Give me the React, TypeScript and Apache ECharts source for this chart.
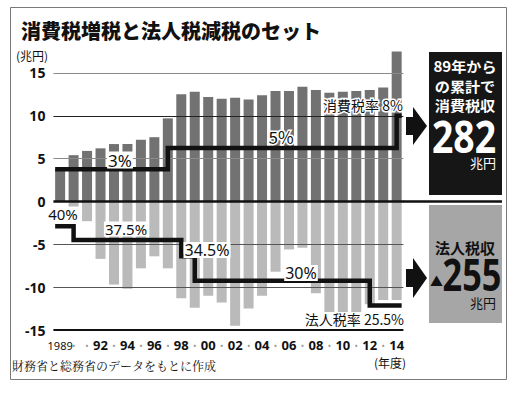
import React, { useEffect, useRef } from 'react';
import * as echarts from 'echarts';

// ---- data ----
const years = [1989, 1990, 1991, 1992, 1993, 1994, 1995, 1996, 1997, 1998, 1999, 2000, 2001, 2002, 2003, 2004, 2005, 2006, 2007, 2008, 2009, 2010, 2011, 2012, 2013, 2014];
const xLabels = ['1989', '・', '・', '92', '・', '94', '・', '96', '・', '98', '・', '00', '・', '02', '・', '04', '・', '06', '・', '08', '・', '10', '・', '12', '・', '14'];
// 消費税収 (兆円)
const consumptionTax = [3.8, 5.4, 5.9, 6.2, 6.7, 6.7, 7.2, 7.5, 9.7, 12.5, 12.8, 12.2, 12.0, 12.1, 11.9, 12.4, 12.9, 12.9, 13.4, 13.0, 12.7, 12.8, 12.9, 13.0, 13.3, 17.5];
// 法人税収の減少 (89年度比, 兆円)
const corporateTaxChange = [0, -1.0, -2.3, -6.7, -9.7, -10.2, -7.8, -6.4, -7.8, -11.3, -12.4, -11.0, -11.8, -14.5, -12.5, -11.0, -8.2, -5.6, -5.4, -10.7, -14.3, -13.5, -13.0, -12.0, -11.5, -11.5];
// 税率 (%)
const consumptionRate = [3, 3, 3, 3, 3, 3, 3, 3, 5, 5, 5, 5, 5, 5, 5, 5, 5, 5, 5, 5, 5, 5, 5, 5, 5, 8];
const corporateRate = [40, 37.5, 37.5, 37.5, 37.5, 37.5, 37.5, 37.5, 37.5, 34.5, 30, 30, 30, 30, 30, 30, 30, 30, 30, 30, 30, 30, 30, 25.5, 25.5, 25.5];
const yTicks = [-15, -10, -5, 0, 5, 10, 15];
const panelLines = ['89年から', 'の累計で', '消費税収'];

const CJK = '"Noto Sans CJK JP", "Noto Sans", sans-serif';
const LAT = '"Noto Sans", "Liberation Sans", sans-serif';

const EDGE = 0.37;
const stepData = (rates: number[]) => [
  [-EDGE, rates[0]],
  ...rates.map((r, i) => [i, r]),
  [rates.length - 1 + EDGE, rates[rates.length - 1]],
];

const gridStyle = (v: number) => {
  if (v === 0) return { color: '#111', width: 2.5, type: 'solid' };
  if (v === -15) return { color: '#111', width: 2, type: 'solid' };
  if (v === 10) return { color: '#222', width: 1, type: 'solid' };
  if (v === 15 || v === 5) return { color: '#8a8a8a', width: 1, type: 'solid' };
  return { color: '#555', width: 1, type: 'solid' };
};

export default function App() {
  const ref = useRef<HTMLDivElement>(null);
  useEffect(() => {
    if (!ref.current) return;
    const chart = echarts.init(ref.current, undefined, { renderer: 'svg' });
    const boxLabel = (text: string, x: number, y: number, size: number, align = 'center') => ({
      type: 'text',
      x,
      y,
      z: 50,
      style: {
        text,
        x: 0,
        y: 0,
        align,
        verticalAlign: 'middle',
        font: `${size}px ${LAT}`,
        fill: '#111',
        backgroundColor: '#fff',
        padding: [0, 1],
      },
    });
    const haloLabel = (text: string, x: number, y: number, size: number) => ({
      type: 'text',
      x,
      y,
      z: 50,
      style: {
        text,
        x: 0,
        y: 0,
        align: 'center',
        verticalAlign: 'middle',
        font: `${size}px ${CJK}`,
        fill: '#111',
        stroke: '#fff',
        lineWidth: 3,
      },
    });
    const panelText = (text: string, x: number, y: number, font: string, fill: string, align = 'center', scaleX = 1) => ({
      type: 'text',
      x,
      y,
      scaleX,
      z: 7,
      style: { text, x: 0, y: 0, align, verticalAlign: 'middle', font, fill },
    });
    const option: any = {
      animation: false,
      backgroundColor: '#fff',
      grid: { left: 53.4, right: 108.6, top: 51.5, bottom: 64, containLabel: false },
      xAxis: [
        {
          type: 'category',
          data: years.map(String),
          axisLine: { show: false },
          axisTick: { show: false },
          axisLabel: {
            interval: 0,
            margin: 7,
            hideOverlap: false,
            formatter: (_: string, i: number) => {
              const l = xLabels[i];
              if (l === '・') return '{d|•}';
              if (l.length === 4) return `{y|${l}}`;
              return `{n|${l}}`;
            },
            rich: {
              d: { fontSize: 9, lineHeight: 16, color: '#999', fontFamily: LAT },
              y: { fontSize: 11, lineHeight: 16, color: '#111', fontFamily: LAT },
              n: { fontSize: 13, lineHeight: 16, fontWeight: 'bold', color: '#111', fontFamily: LAT },
            },
          },
        },
        { type: 'value', min: -0.5, max: 25.5, show: false },
      ],
      yAxis: [
        {
          type: 'value',
          min: -15,
          max: 17.5,
          interval: 5,
          axisLine: { show: false },
          axisTick: { show: false },
          splitLine: { show: false },
          axisLabel: {
            margin: 8,
            fontSize: 14,
            fontWeight: 'bold',
            color: '#111',
            fontFamily: LAT,
            formatter: (v: number) => (yTicks.includes(v) ? String(v) : ''),
          },
        },
        { type: 'value', min: -12, max: 14, show: false },
        { type: 'value', min: 20.99, max: 72.05, show: false },
      ],
      series: [
        {
          type: 'line',
          data: years.map(() => null),
          z: 1,
          silent: true,
          symbol: 'none',
          markLine: {
            silent: true,
            symbol: ['none', 'none'],
            label: { show: false },
            data: yTicks.map((v) => ({ yAxis: v, lineStyle: gridStyle(v) })),
          },
        },
        {
          name: '消費税収',
          type: 'bar',
          data: consumptionTax,
          barWidth: 10,
          barGap: '-100%',
          itemStyle: { color: '#727272' },
          z: 2,
        },
        {
          name: '法人税収',
          type: 'bar',
          data: corporateTaxChange,
          barWidth: 10,
          barGap: '-100%',
          itemStyle: { color: '#bababa' },
          z: 2,
        },
        {
          name: '消費税率',
          type: 'line',
          xAxisIndex: 1,
          yAxisIndex: 1,
          step: 'end',
          symbol: 'none',
          data: stepData(consumptionRate),
          lineStyle: { color: '#111', width: 4.5, cap: 'butt', join: 'miter' },
          z: 5,
        },
        {
          name: '法人税率',
          type: 'line',
          xAxisIndex: 1,
          yAxisIndex: 2,
          step: 'end',
          symbol: 'none',
          data: stepData(corporateRate),
          lineStyle: { color: '#111', width: 4.5, cap: 'butt', join: 'miter' },
          z: 5,
        },
      ],
      graphic: [
        // frame
        { type: 'rect', shape: { x: 10.5, y: 7.5, width: 496, height: 372 }, style: { fill: 'none', stroke: '#7a7a7a', lineWidth: 1 }, z: 0, silent: true },
        // title & notes
        { type: 'text', x: 21, y: 30, style: { text: '消費税増税と法人税減税のセット', x: 0, y: 0, verticalAlign: 'middle', font: `900 20px ${CJK}`, fill: '#111' } },
        { type: 'text', x: 16, y: 55, style: { text: '(兆円)', x: 0, y: 0, verticalAlign: 'middle', font: `12px ${CJK}`, fill: '#111' } },
        { type: 'text', x: 390, y: 362, style: { text: '(年度)', x: 0, y: 0, align: 'center', verticalAlign: 'middle', font: `12px ${CJK}`, fill: '#111' } },
        { type: 'text', x: 12, y: 365, style: { text: '財務省と総務省のデータをもとに作成', x: 0, y: 0, verticalAlign: 'middle', font: `12px "Noto Serif CJK JP", ${CJK}`, fill: '#111' } },
        // zero line extension
        { type: 'line', shape: { x1: 403, y1: 201.5, x2: 502, y2: 201.5 }, style: { stroke: '#111', lineWidth: 2.5 }, z: 3 },
        // rate labels
        boxLabel('3%', 120, 160, 17),
        haloLabel('5%', 281, 136, 17),
        haloLabel('消費税率 8%', 363, 104.5, 14),
        boxLabel('40%', 63, 214, 15),
        boxLabel('37.5%', 126, 229, 15),
        boxLabel('34.5%', 207, 250, 16),
        boxLabel('30%', 301, 273, 16),
        { type: 'text', x: 405, y: 319, z: 50, style: { text: '法人税率 25.5%', x: 0, y: 0, align: 'right', verticalAlign: 'middle', font: `14px ${CJK}`, fill: '#111', backgroundColor: '#fff', padding: [0, 1] } },
        // arrows
        { type: 'polygon', shape: { points: [[406, 117], [413, 117], [413, 107], [427, 126], [413, 145], [413, 135], [406, 135]] }, style: { fill: '#111' }, z: 6 },
        { type: 'polygon', shape: { points: [[406, 269], [413, 269], [413, 258], [427, 278], [413, 298], [413, 287], [406, 287]] }, style: { fill: '#111' }, z: 6 },
        // dark panel
        { type: 'rect', shape: { x: 429, y: 52, width: 73, height: 143 }, style: { fill: '#161616' }, z: 6 },
        ...panelLines.map((t, i) => panelText(t, 465, 66 + i * 19.5, `bold 14px ${CJK}`, '#fff', 'center', 1.08)),
        panelText('282', 464, 136, `bold 44px ${LAT}`, '#fff', 'center', 0.85),
        panelText('兆円', 496, 162, `13px ${CJK}`, '#fff', 'right'),
        // gray panel
        { type: 'rect', shape: { x: 429, y: 205, width: 73, height: 118 }, style: { fill: '#a6a6a6' }, z: 6 },
        panelText('法人税収', 465, 247, `bold 15px ${CJK}`, '#111'),
        panelText('▲', 436.5, 280, `13px ${CJK}`, '#111'),
        panelText('255', 472, 274, `bold 44px ${LAT}`, '#111', 'center', 0.78),
        panelText('兆円', 496, 302, `13px ${CJK}`, '#111', 'right'),
      ],
    };
    chart.setOption(option);
    return () => chart.dispose();
  }, []);
  return <div ref={ref} style={{ position: 'fixed', left: 0, top: 0, width: 512, height: 394 }} />;
}
